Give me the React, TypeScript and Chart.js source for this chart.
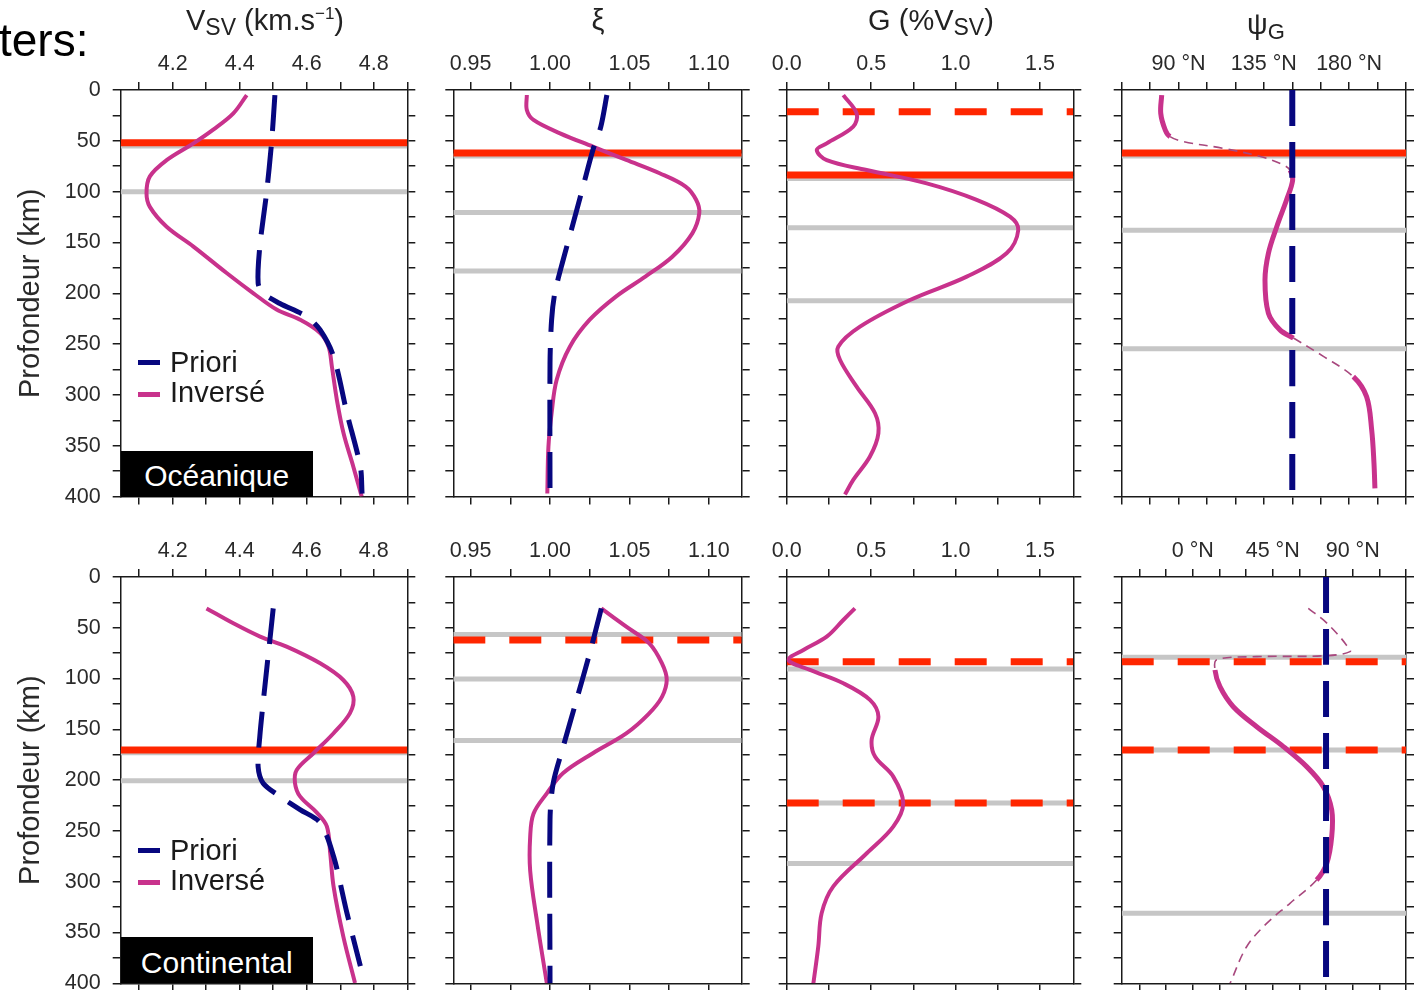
import React, { useEffect, useRef } from 'react';
import { Chart, registerables } from 'chart.js';

Chart.register(...registerables);

const FONT = '"Liberation Sans", Arial, Helvetica, sans-serif';
const MAGENTA = '#c8328c';
const PSI_THIN = '#a8487e';
const NAVY = '#07077f';
const RED = '#ff2600';
const GRAY = '#c6c6c6';
const AXIS = '#1a1a1a';
const TICK_TEXT = '#2a2a2a';

// ---------- axes ----------
const depthTicks = [0, 25, 50, 75, 100, 125, 150, 175, 200, 225, 250, 275, 300, 325, 350, 375, 400];
const depthTickLabels = ['0', '', '50', '', '100', '', '150', '', '200', '', '250', '', '300', '', '350', '', '400'];

const vsvTicks = [4.1, 4.2, 4.3, 4.4, 4.5, 4.6, 4.7, 4.8, 4.9];
const vsvTickLabels = ['', '4.2', '', '4.4', '', '4.6', '', '4.8', ''];
const xiTicks = [0.95, 0.975, 1.0, 1.025, 1.05, 1.075, 1.1];
const xiTickLabels = ['0.95', '', '1.00', '', '1.05', '', '1.10'];
const gTicks = [0, 0.25, 0.5, 0.75, 1.0, 1.25, 1.5];
const gTickLabels = ['0.0', '', '0.5', '', '1.0', '', '1.5'];
const psiOceTicks = [60, 75, 90, 105, 120, 135, 150, 165, 180, 195, 210];
const psiOceTickLabels = ['', '', '90 °N', '', '', '135 °N', '', '', '180 °N', '', ''];
const psiConTicks = [-30, -15, 0, 15, 30, 45, 60, 75, 90, 105, 120];
const psiConTickLabels = ['', '', '0 °N', '', '', '45 °N', '', '', '90 °N', '', ''];

// ---------- Océanique ----------
const oceVsvInvDepth = [5, 23, 39, 52.5, 69, 85, 101.6, 115, 134.5, 154, 180, 200, 216, 226, 239, 252.5, 272, 305, 338, 370.6, 400];
const oceVsvInvValue = [4.421, 4.381, 4.321, 4.262, 4.182, 4.132, 4.122, 4.132, 4.182, 4.262, 4.361, 4.441, 4.51, 4.58, 4.64, 4.665, 4.675, 4.69, 4.71, 4.739, 4.764];
const oceVsvPriDepth = [5, 52, 101.6, 154, 190, 200, 210, 223, 236, 262, 318, 370.6, 397];
const oceVsvPriValue = [4.505, 4.495, 4.48, 4.46, 4.455, 4.47, 4.52, 4.6, 4.64, 4.68, 4.72, 4.76, 4.765];

const oceXiInvDepth = [5, 19.7, 29.5, 42.6, 55.7, 68.8, 81.9, 95, 108, 121, 141, 164, 183.6, 203, 226, 252.5, 285, 318, 351, 397];
const oceXiInvValue = [0.9854, 0.9854, 0.9896, 1.0063, 1.027, 1.048, 1.069, 1.0854, 1.092, 1.094, 1.0896, 1.077, 1.06, 1.0417, 1.025, 1.0125, 1.0042, 1.001, 0.999, 0.9983];
const oceXiPriDepth = [5, 36, 59, 95, 131, 167, 200, 226, 269, 397];
const oceXiPriValue = [1.0358, 1.032, 1.027, 1.0208, 1.0146, 1.0083, 1.003, 1.001, 1.0, 1.0];

const oceGInvDepth = [5, 23, 36, 52.5, 59, 69, 78.7, 91.8, 108, 124.6, 137.8, 160.7, 183.6, 206.6, 232.8, 252.5, 265.6, 291.8, 318, 337.7, 360.6, 383.6, 398];
const oceGInvValue = [0.335, 0.414, 0.394, 0.237, 0.178, 0.237, 0.473, 0.829, 1.125, 1.322, 1.371, 1.302, 1.066, 0.73, 0.434, 0.305, 0.316, 0.414, 0.523, 0.543, 0.493, 0.394, 0.345];

const ocePsiInvDepth = [5, 23, 39.5, 45.9, 50.8, 57.4, 66.2, 73.8, 78.7, 88.5, 108, 134.5, 160.7, 187, 219.6, 236, 244, 262, 282, 301.7, 334.4, 367, 392];
const ocePsiInvValue = [81.1, 80.6, 83.0, 85.5, 92.5, 113.6, 134.7, 145.3, 148.8, 150.2, 147, 141.8, 137.4, 135.6, 137.4, 143.5, 150.6, 166.4, 182.2, 189.2, 191.9, 193.1, 193.6];
const ocePsiInvThin = [0, 0, 0, 1, 1, 1, 1, 1, 0, 0, 0, 0, 0, 0, 0, 0, 1, 1, 0, 0, 0, 0, 0];
const ocePsiPriDepth = [0, 400];
const ocePsiPriValue = [150, 150];

const oceVsvRed = [52];
const oceVsvGray = [55, 100];
const oceXiRed = [62];
const oceXiGray = [65, 120.5, 178];
const oceGRed = [83.6];
const oceGRedDash = [21.3];
const oceGGray = [87, 135.5, 207.3];
const ocePsiRed = [62];
const ocePsiGray = [65, 138, 254.5];

// ---------- Continental ----------
const conVsvInvDepth = [30.9, 45.6, 58.7, 68.6, 85, 101.4, 117.8, 134, 153.8, 173.5, 190, 203, 216, 232, 245.6, 271.8, 304.6, 353.8, 399.7];
const conVsvInvValue = [4.301, 4.381, 4.461, 4.54, 4.64, 4.709, 4.739, 4.729, 4.68, 4.62, 4.57, 4.565, 4.58, 4.63, 4.66, 4.67, 4.68, 4.709, 4.744];
const conVsvPriDepth = [30.9, 62, 108, 157, 187, 203, 216, 229, 242, 275, 331, 383];
const conVsvPriValue = [4.5, 4.49, 4.475, 4.46, 4.455, 4.47, 4.52, 4.58, 4.64, 4.68, 4.72, 4.76];

const conXiInvDepth = [30.9, 48.9, 65.3, 85, 101, 118, 135, 154, 173.5, 193, 213, 233, 256, 289, 338, 400];
const conXiInvValue = [1.0323, 1.048, 1.0625, 1.0705, 1.0735, 1.0705, 1.062, 1.048, 1.027, 1.0083, 0.998, 0.9896, 0.9875, 0.9875, 0.9917, 0.998];
const conXiPriDepth = [30.9, 75, 121, 167, 203, 239, 400];
const conXiPriValue = [1.0323, 1.025, 1.0167, 1.0083, 1.002, 1.0, 1.0];

const conGInvDepth = [30.9, 42.3, 58.7, 71.8, 81.7, 91.5, 104.6, 121, 137.5, 160.4, 176.8, 196.5, 222.7, 245.7, 272, 304.6, 330.9, 363.7, 400];
const conGInvValue = [0.404, 0.335, 0.237, 0.099, 0.01, 0.138, 0.335, 0.493, 0.543, 0.503, 0.523, 0.631, 0.69, 0.631, 0.474, 0.276, 0.207, 0.187, 0.158];

const conPsiInvDepth = [30.9, 42.3, 55.4, 66, 73.5, 77.6, 78.4, 81.5, 91.5, 108, 127.7, 147.4, 167, 186.7, 206.4, 229.4, 255.6, 281.9, 298.3, 321.3, 341, 364, 400];
const conPsiInvValue = [65.0, 73.5, 81.0, 86.0, 88.5, 73.5, 36.0, 13.5, 12.5, 15.3, 22.8, 36.0, 51.0, 64.1, 73.5, 78.2, 78.2, 75.4, 69.7, 54.7, 41.6, 30.3, 21.0];
const conPsiInvThin = [1, 1, 1, 1, 1, 1, 1, 1, 0, 0, 0, 0, 0, 0, 0, 0, 0, 0, 1, 1, 1, 1, 0];
const conPsiPriDepth = [0, 400];
const conPsiPriValue = [75, 75];

const conVsvRed = [170.3];
const conVsvGray = [173, 200.5];
const conXiRedDash = [62];
const conXiGray = [56.5, 100.5, 161];
const conGRedDash = [83.4, 222.6];
const conGGray = [90.5, 222.6, 282];
const conPsiRedDash = [83.4, 170.3];
const conPsiGray = [79, 170.3, 331];

// ---------- layout (pixels) ----------
const COLS: [number, number][] = [[120.7, 407.3], [453.3, 741.7], [786.7, 1073.3], [1121.7, 1406]];
const ROWS: [number, number][] = [[90, 496.6], [577, 983.3]];

type Curve = { depth: number[]; value: number[]; kind: 'priori' | 'inv' | 'psiInv' | 'psiPriori'; thin?: number[] };
type PanelDef = {
  row: number; col: number; xMin: number; xMax: number; ticks: number[]; labels: string[];
  curves: Curve[]; red: number[]; redDash: number[]; gray: number[];
};

const panels: PanelDef[] = [
  { row: 0, col: 0, xMin: 4.045, xMax: 4.9, ticks: vsvTicks, labels: vsvTickLabels,
    curves: [{ depth: oceVsvPriDepth, value: oceVsvPriValue, kind: 'priori' }, { depth: oceVsvInvDepth, value: oceVsvInvValue, kind: 'inv' }],
    red: oceVsvRed, redDash: [], gray: oceVsvGray },
  { row: 0, col: 1, xMin: 0.9391, xMax: 1.1207, ticks: xiTicks, labels: xiTickLabels,
    curves: [{ depth: oceXiPriDepth, value: oceXiPriValue, kind: 'priori' }, { depth: oceXiInvDepth, value: oceXiInvValue, kind: 'inv' }],
    red: oceXiRed, redDash: [], gray: oceXiGray },
  { row: 0, col: 2, xMin: 0, xMax: 1.697, ticks: gTicks, labels: gTickLabels,
    curves: [{ depth: oceGInvDepth, value: oceGInvValue, kind: 'inv' }],
    red: oceGRed, redDash: oceGRedDash, gray: oceGGray },
  { row: 0, col: 3, xMin: 60, xMax: 210, ticks: psiOceTicks, labels: psiOceTickLabels,
    curves: [{ depth: ocePsiPriDepth, value: ocePsiPriValue, kind: 'psiPriori' }, { depth: ocePsiInvDepth, value: ocePsiInvValue, kind: 'psiInv', thin: ocePsiInvThin }],
    red: ocePsiRed, redDash: [], gray: ocePsiGray },
  { row: 1, col: 0, xMin: 4.045, xMax: 4.9, ticks: vsvTicks, labels: vsvTickLabels,
    curves: [{ depth: conVsvPriDepth, value: conVsvPriValue, kind: 'priori' }, { depth: conVsvInvDepth, value: conVsvInvValue, kind: 'inv' }],
    red: conVsvRed, redDash: [], gray: conVsvGray },
  { row: 1, col: 1, xMin: 0.9391, xMax: 1.1207, ticks: xiTicks, labels: xiTickLabels,
    curves: [{ depth: conXiPriDepth, value: conXiPriValue, kind: 'priori' }, { depth: conXiInvDepth, value: conXiInvValue, kind: 'inv' }],
    red: [], redDash: conXiRedDash, gray: conXiGray },
  { row: 1, col: 2, xMin: 0, xMax: 1.697, ticks: gTicks, labels: gTickLabels,
    curves: [{ depth: conGInvDepth, value: conGInvValue, kind: 'inv' }],
    red: [], redDash: conGRedDash, gray: conGGray },
  { row: 1, col: 3, xMin: -40, xMax: 120, ticks: psiConTicks, labels: psiConTickLabels,
    curves: [{ depth: conPsiPriDepth, value: conPsiPriValue, kind: 'psiPriori' }, { depth: conPsiInvDepth, value: conPsiInvValue, kind: 'psiInv', thin: conPsiInvThin }],
    red: [], redDash: conPsiRedDash, gray: conPsiGray },
];

function geom(row: number, col: number) {
  const [L, R] = COLS[col];
  const [T, B] = ROWS[row];
  const left = col === 0 ? 0 : Math.floor(L) - 30;
  const right = Math.ceil(R) + 30;
  const top = Math.floor(T) - 50;
  const bottom = row === 1 ? 990 : Math.ceil(B) + 16;
  return {
    left, top, width: right - left, height: bottom - top,
    padL: L - left, padR: right - R, padT: T - top, padB: bottom - B,
  };
}

function buildConfig(p: PanelDef): any {
  const g = geom(p.row, p.col);
  const hline = (d: number) => [{ x: p.xMin, y: d }, { x: p.xMax, y: d }];
  const datasets: any[] = [];
  const base = { showLine: true, pointRadius: 0, pointHoverRadius: 0, fill: false, borderCapStyle: 'butt', borderJoinStyle: 'round' };

  const ordered = [...p.curves.filter(c => c.kind === 'priori' || c.kind === 'psiPriori'), ...p.curves.filter(c => c.kind === 'inv' || c.kind === 'psiInv')];
  ordered.forEach(c => {
    const data = c.depth.map((d, i) => ({ x: c.value[i], y: d }));
    if (c.kind === 'priori' || c.kind === 'psiPriori') {
      datasets.push({ ...base, data, borderColor: NAVY, borderWidth: c.kind === 'psiPriori' ? 6 : 5, borderDash: [36, 16], tension: 0.3 });
    } else if (c.kind === 'inv') {
      datasets.push({ ...base, data, borderColor: MAGENTA, borderWidth: 4, tension: 0.35 });
    } else {
      const thin = c.thin || [];
      datasets.push({
        ...base, data, borderColor: MAGENTA, borderWidth: 5, tension: 0.35,
        segment: {
          borderWidth: (ctx: any) => (thin[ctx.p0DataIndex] ? 1.6 : 5),
          borderDash: (ctx: any) => (thin[ctx.p0DataIndex] ? [9, 6] : []),
          borderColor: (ctx: any) => (thin[ctx.p0DataIndex] ? PSI_THIN : MAGENTA),
        },
      });
    }
  });
  p.red.forEach(d => datasets.push({ ...base, data: hline(d), borderColor: RED, borderWidth: 7, tension: 0 }));
  p.redDash.forEach(d => datasets.push({ ...base, data: hline(d), borderColor: RED, borderWidth: 7, borderDash: [32, 24], tension: 0 }));
  p.gray.forEach(d => datasets.push({ ...base, data: hline(d), borderColor: GRAY, borderWidth: 5, tension: 0 }));

  const fix = (size: number, horiz: boolean) => (s: any) => {
    if (horiz) s.height = size; else s.width = size;
    s.paddingLeft = 0; s.paddingRight = 0; s.paddingTop = 0; s.paddingBottom = 0;
  };
  const setTicks = (vals: number[]) => (s: any) => { s.ticks = vals.map(v => ({ value: v })); };
  const grid = { drawOnChartArea: false, drawTicks: true, tickLength: 8, color: AXIS, lineWidth: 1.5 };
  const border = { display: true, color: AXIS, width: 1.5 };
  const tickFont = { family: FONT, size: 21.5 };
  const showY = p.col === 0;

  return {
    type: 'scatter',
    data: { datasets },
    options: {
      animation: false,
      responsive: true,
      maintainAspectRatio: false,
      events: [],
      layout: { padding: 0, autoPadding: false },
      plugins: { legend: { display: false }, tooltip: { enabled: false }, title: { display: false } },
      scales: {
        x: {
          type: 'linear', axis: 'x', position: 'top', min: p.xMin, max: p.xMax,
          afterBuildTicks: setTicks(p.ticks), afterFit: fix(g.padT, true),
          ticks: { callback: (_v: any, i: number) => p.labels[i], font: tickFont, color: TICK_TEXT, padding: 5, maxRotation: 0, minRotation: 0, autoSkip: false },
          grid, border,
        },
        x2: {
          type: 'linear', axis: 'x', position: 'bottom', min: p.xMin, max: p.xMax,
          afterBuildTicks: setTicks(p.ticks), afterFit: fix(g.padB, true),
          ticks: { display: false }, grid, border,
        },
        y: {
          type: 'linear', axis: 'y', position: 'left', min: 0, max: 400, reverse: true,
          afterBuildTicks: setTicks(depthTicks), afterFit: fix(g.padL, false),
          ticks: { display: showY, callback: (_v: any, i: number) => depthTickLabels[i], font: tickFont, color: TICK_TEXT, padding: 12, autoSkip: false },
          title: { display: showY, text: 'Profondeur (km)', color: '#2a2a2a', font: { family: FONT, size: 29, lineHeight: 1.2 }, padding: { top: 14, bottom: 0 } },
          grid, border,
        },
        y2: {
          type: 'linear', axis: 'y', position: 'right', min: 0, max: 400, reverse: true,
          afterBuildTicks: setTicks(depthTicks), afterFit: fix(g.padR, false),
          ticks: { display: false }, grid, border,
        },
      },
    },
  };
}

function Panel({ p }: { p: PanelDef }) {
  const ref = useRef<HTMLCanvasElement | null>(null);
  const g = geom(p.row, p.col);
  useEffect(() => {
    if (!ref.current) return;
    const chart = new Chart(ref.current, buildConfig(p));
    return () => chart.destroy();
  }, [p]);
  return (
    <div style={{ position: 'absolute', left: g.left, top: g.top, width: g.width, height: g.height }}>
      <canvas ref={ref} />
    </div>
  );
}

const abs = (extra: React.CSSProperties): React.CSSProperties => ({ position: 'absolute', whiteSpace: 'nowrap', ...extra });

function Title({ cx, top, children }: { cx: number; top: number; children: React.ReactNode }) {
  return (
    <div style={abs({ left: cx - 200, top, width: 400, textAlign: 'center', fontSize: 29, lineHeight: '29px', color: '#222' })}>
      {children}
    </div>
  );
}

function Legend({ y1, y2 }: { y1: number; y2: number }) {
  return (
    <>
      <div style={abs({ left: 138, top: y1 - 12.5, width: 22, height: 5, background: NAVY })} />
      <div style={abs({ left: 170, top: y1 - 24.5, fontSize: 29, lineHeight: '29px', color: '#1a1a1a' })}>Priori</div>
      <div style={abs({ left: 138, top: y2 - 10, width: 22, height: 4.5, background: MAGENTA })} />
      <div style={abs({ left: 170, top: y2 - 24.5, fontSize: 29, lineHeight: '29px', color: '#1a1a1a' })}>Inversé</div>
    </>
  );
}

function RegionBox({ top, bottom, text }: { top: number; bottom: number; text: string }) {
  return (
    <div style={abs({ left: 120.7, top, width: 192, height: bottom - top, background: '#000' })}>
      <div style={abs({ left: 0, width: 192, top: bottom - top - 10 - 25.4, textAlign: 'center', fontSize: 30, lineHeight: '30px', color: '#fff' })}>{text}</div>
    </div>
  );
}

export default function App() {
  const sub = (t: string, size = 23, dy = 5) => <span style={{ fontSize: size, position: 'relative', top: dy }}>{t}</span>;
  return (
    <div style={{ position: 'absolute', left: 0, top: 0, width: 1421, height: 990, overflow: 'hidden', background: '#fff', fontFamily: FONT }}>
      {panels.map((p, i) => <Panel key={i} p={p} />)}

      <div style={abs({ left: -1, top: 17, fontSize: 46, lineHeight: '46px', color: '#000' })}>ters:</div>

      <Title cx={265} top={5.5}>V{sub('SV')} (km.s<span style={{ fontSize: 17, position: 'relative', top: -11 }}>−1</span>)</Title>
      <Title cx={598} top={6}>ξ</Title>
      <Title cx={931} top={5.5}>G (%V{sub('SV')})</Title>
      <Title cx={1266} top={9.5}>ψ{sub('G', 22, 5)}</Title>

      <Legend y1={372} y2={402} />
      <Legend y1={860} y2={890} />

      <RegionBox top={451} bottom={496.6} text="Océanique" />
      <RegionBox top={937} bottom={983.3} text="Continental" />
    </div>
  );
}
